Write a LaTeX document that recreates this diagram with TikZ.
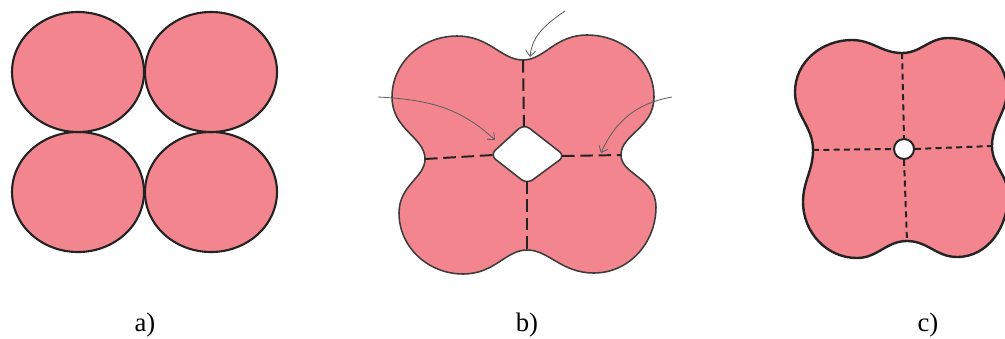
\documentclass[tikz,border=0pt]{standalone}
\usepackage{fontspec}
\setmainfont{Liberation Serif}
\usetikzlibrary{arrows.meta}

\definecolor{rosa}{RGB}{242,133,142}
\definecolor{bordo}{RGB}{35,35,35}
\definecolor{bordob}{RGB}{60,60,60}
\definecolor{grigio}{RGB}{95,95,95}

\begin{document}
\begin{tikzpicture}[x=0.025cm,y=0.025cm,
        lobo/.style={fill=rosa,draw=bordo,line width=1.5pt},
        tratto/.style={draw=bordo,line width=1.4pt,dash pattern=on 9pt off 4pt},
        trattino/.style={draw=bordo,line width=1.4pt,dash pattern=on 4.3pt off 3pt},
        freccia/.style={draw=grigio,line width=0.6pt,-{Straight Barb[length=4pt,width=7pt]}},
        etichetta/.style={font=\fontsize{19}{21}\selectfont}]

        % Area del disegno (1005 x 338 px)
        \useasboundingbox (0,0) rectangle (1005,338);
        \clip (0,0) rectangle (1005,338);

        % a) quattro sfere a contatto
        \foreach \cx in {78,211}
            \foreach \cy in {146,266}
                \draw[lobo] (\cx,\cy) ellipse [x radius=66, y radius=60];

        % b) punti di contatto (colli) e cavita centrale
        \coordinate (bnL) at (425,179);
        \coordinate (bnT) at (523,278);
        \coordinate (bnR) at (621,183);
        \coordinate (bnB) at (527,88);
        \coordinate (bhL) at (493,183);
        \coordinate (bhT) at (524,211);
        \coordinate (bhR) at (562,182);
        \coordinate (bhB) at (527,157);

        % b) contorno dei quattro lobi
        \draw[lobo,draw=bordob,line width=1.1pt] (bnL)
            to[out=90,in=-90,out looseness=0.8,in looseness=1.2] (392,241)
            to[out=90,in=180] (457,302)
            to[out=0,in=180,out looseness=1.2,in looseness=0.8] (bnT)
            to[out=0,in=180,out looseness=0.8,in looseness=1.2] (587,303)
            to[out=0,in=90] (654,241)
            to[out=-90,in=90,out looseness=1.2,in looseness=0.8] (bnR)
            to[out=-90,in=90,out looseness=0.8,in looseness=1.2] (656,131)
            to[out=-90,in=0] (594,65)
            to[out=180,in=0,out looseness=1.2,in looseness=0.8] (bnB)
            to[out=180,in=0,out looseness=0.8,in looseness=1.2] (463,64)
            to[out=180,in=-90] (399,125)
            to[out=90,in=-90,out looseness=1.2,in looseness=0.8] (bnL) -- cycle;

        % b) cavita
        \draw[draw=bordob,fill=white,line width=1.1pt,rounded corners=5pt]
            (490,183) -- (524,214) -- (565,182) -- (527,154) -- cycle;

        % b) bordi di grano
        \draw[tratto] (bnT) -- (bhT);
        \draw[tratto] (bnL) -- (bhL);
        \draw[tratto] (bhR) -- (bnR);
        \draw[tratto] (bhB) -- (bnB);

        % b) frecce
        \coordinate (f1a) at (565,327);
        \coordinate (f1b) at (530,281);
        \coordinate (f2a) at (378,241);
        \coordinate (f2b) at (495,198);
        \coordinate (f3a) at (672,241);
        \coordinate (f3b) at (601,185);
        \draw[freccia] (f1a) to[out=215,in=84] (f1b);
        \draw[freccia] (f2a) to[out=-3,in=137] (f2b);
        \draw[freccia] (f3a) to[out=190,in=66] (f3b);

        % c) colli e poro residuo
        \coordinate (cnL) at (813,188);
        \coordinate (cnT) at (902,285);
        \coordinate (cnR) at (992,192);
        \coordinate (cnB) at (907,97);

        \draw[lobo,line width=1.7pt] (cnL)
            to[out=90,in=-90] (795,246)
            to[out=90,in=180] (852,298)
            to[out=0,in=180] (cnT)
            to[out=0,in=180] (948,300)
            to[out=0,in=90] (1007,248)
            to[out=-90,in=90] (cnR)
            to[out=-90,in=90] (1008,143)
            to[out=-90,in=0] (957,81)
            to[out=180,in=0] (cnB)
            to[out=180,in=0] (857,80)
            to[out=180,in=-90] (803,136)
            to[out=90,in=-90] (cnL) -- cycle;

        \node[circle,draw=bordo,fill=white,line width=1.4pt,minimum size=0.5cm,inner sep=0pt] (cporo) at (904,189) {};

        \draw[trattino] (cnT) -- (cporo.north);
        \draw[trattino] (cnL) -- (cporo.west);
        \draw[trattino] (cporo.east) -- (cnR);
        \draw[trattino] (cporo.south) -- (cnB);

        % Etichette
        \node[etichetta] (etA) at (145,13) {a)};
        \node[etichetta] (etB) at (527,13) {b)};
        \node[etichetta] (etC) at (928,13) {c)};

    \end{tikzpicture}
\end{document}
